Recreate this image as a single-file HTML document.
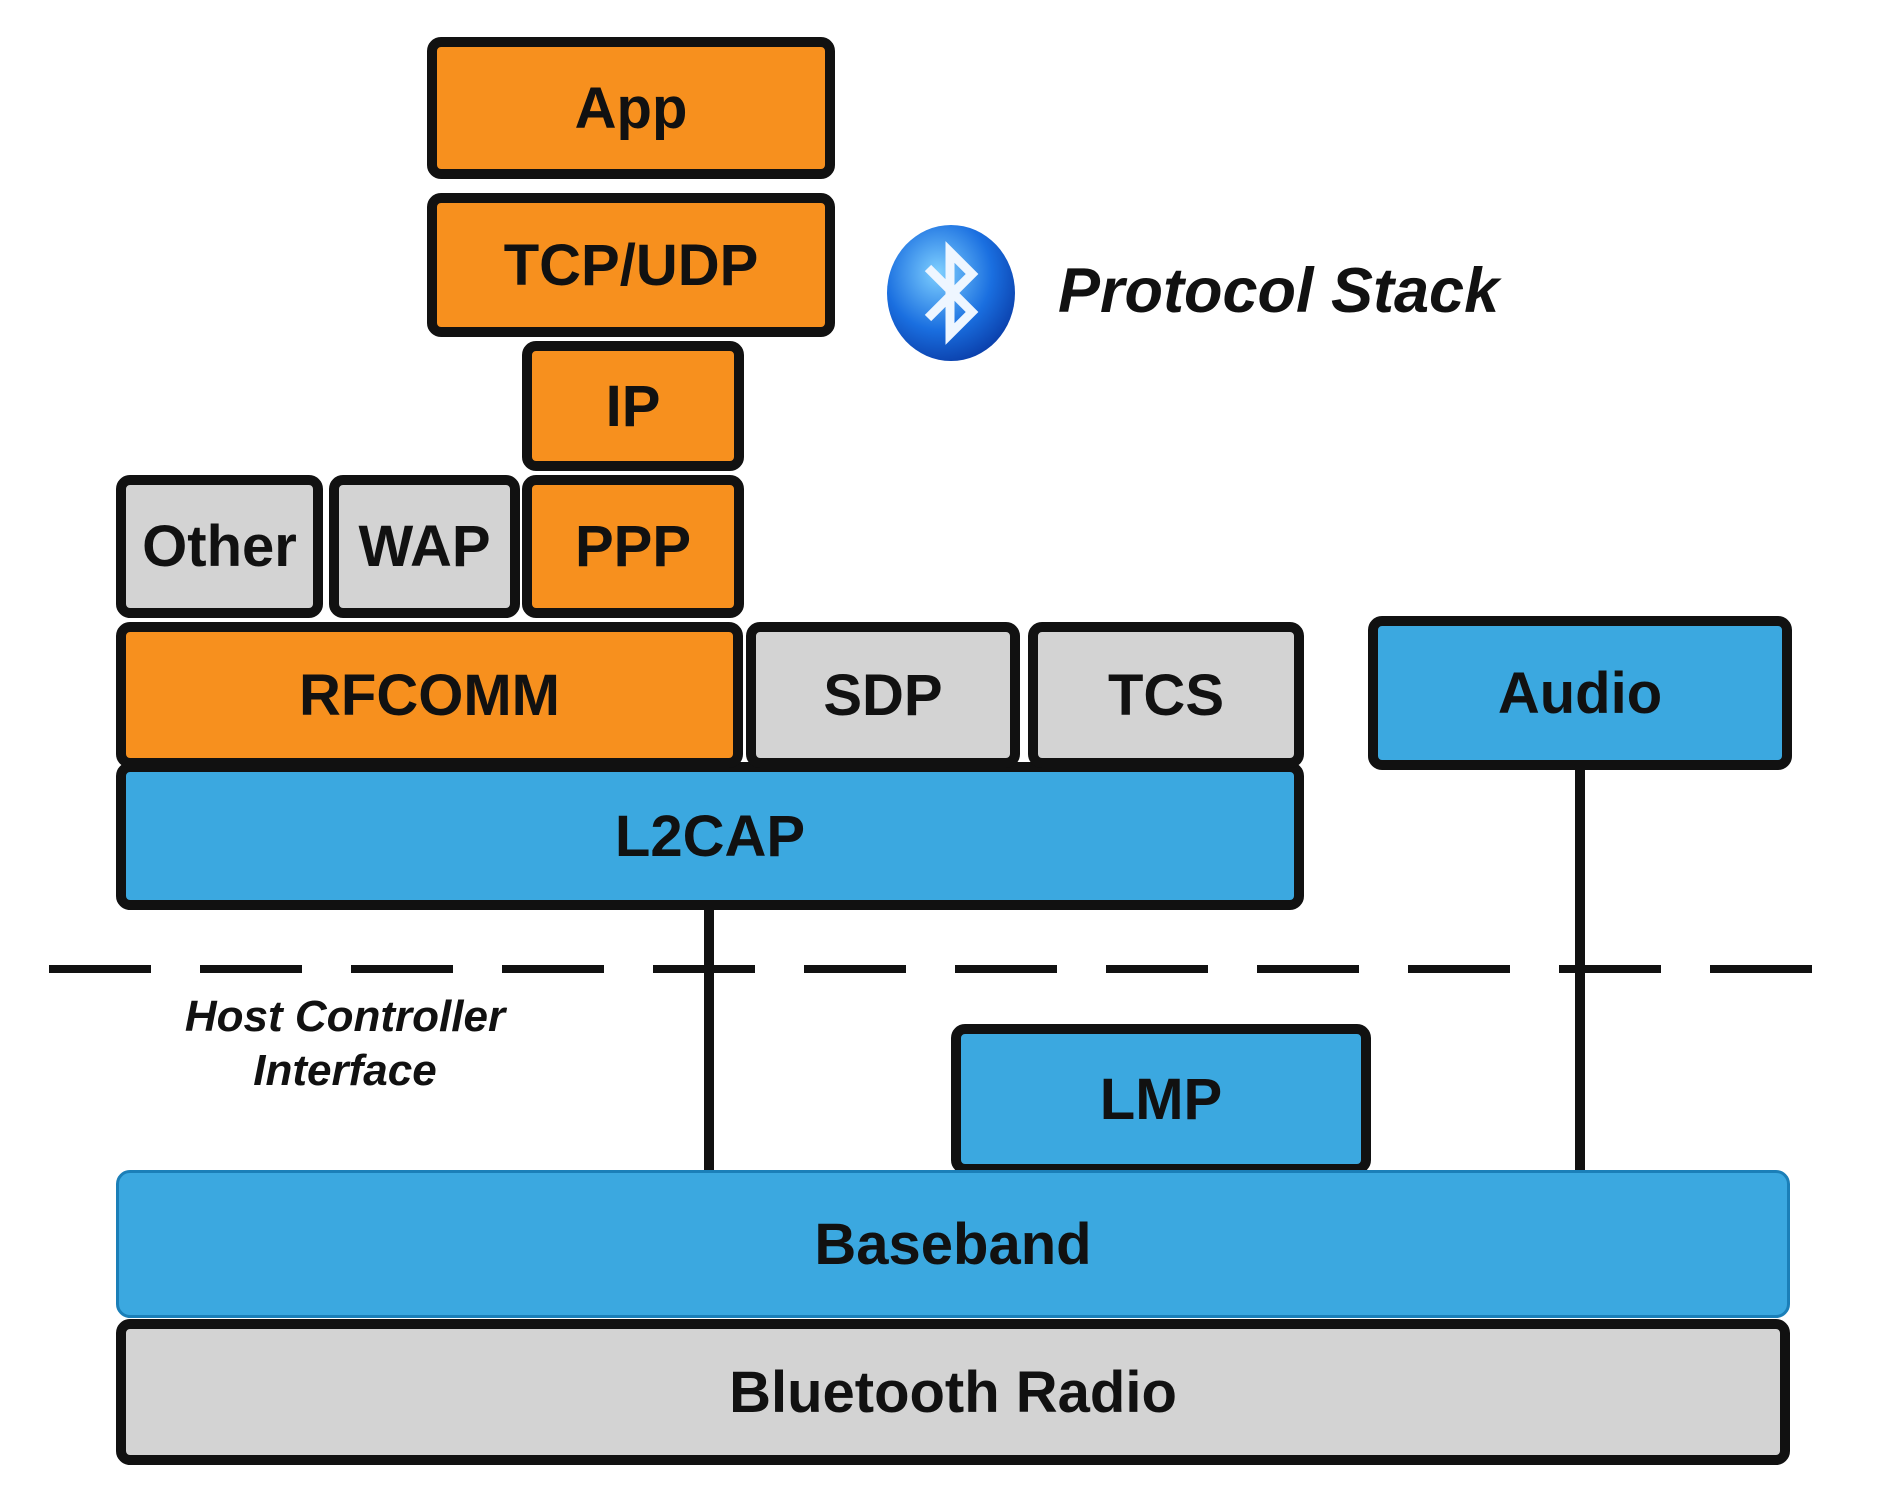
<!DOCTYPE html>
<html><head><style>
body{margin:0;width:1902px;height:1499px;background:#fff;position:relative;overflow:hidden;font-family:"Liberation Sans",sans-serif}
.b{position:absolute;box-sizing:border-box;border:10px solid #111;border-radius:14px;display:flex;align-items:center;justify-content:center;font-weight:bold;font-size:58px;color:#111}
.o{background:#f7901e}.g{background:#d3d3d3}.u{background:#3ba8e0}
</style></head><body>
<div class="b o" style="left:427px;top:37px;width:408px;height:142px">App</div>
<div class="b o" style="left:427px;top:193px;width:408px;height:144px">TCP/UDP</div>
<div class="b o" style="left:522px;top:341px;width:222px;height:130px">IP</div>
<div class="b g" style="left:116px;top:475px;width:207px;height:143px">Other</div>
<div class="b g" style="left:329px;top:475px;width:191px;height:143px">WAP</div>
<div class="b o" style="left:522px;top:475px;width:222px;height:143px">PPP</div>
<div class="b u" style="left:116px;top:762px;width:1188px;height:148px">L2CAP</div>
<div class="b o" style="left:116px;top:622px;width:627px;height:146px">RFCOMM</div>
<div class="b g" style="left:746px;top:622px;width:274px;height:146px">SDP</div>
<div class="b g" style="left:1028px;top:622px;width:276px;height:146px">TCS</div>
<div class="b u" style="left:1368px;top:616px;width:424px;height:154px">Audio</div>
<svg style="position:absolute;left:0;top:0" width="1902" height="1499">
<line x1="49" y1="969" x2="1860" y2="969" stroke="#111" stroke-width="8" stroke-dasharray="102,49"/>
<line x1="709" y1="905" x2="709" y2="1175" stroke="#111" stroke-width="10"/>
<line x1="1580" y1="765" x2="1580" y2="1175" stroke="#111" stroke-width="10"/>
<defs><radialGradient id="bt" cx="0.4" cy="0.35" r="0.7"><stop offset="0" stop-color="#7fd0ff"/><stop offset="0.6" stop-color="#1a6fe0"/><stop offset="1" stop-color="#0a3da8"/></radialGradient></defs>
<ellipse cx="951" cy="293" rx="64" ry="68" fill="url(#bt)"/>
<path d="M928 268 L972 312 L950 334 L950 252 L972 274 L928 318" fill="none" stroke="#eef6ff" stroke-width="9"/>
</svg>
<div class="b u" style="left:951px;top:1024px;width:420px;height:150px">LMP</div>
<div class="b u" style="left:116px;top:1170px;width:1674px;height:148px;border:3px solid #1b7fb8">Baseband</div>
<div class="b g" style="left:116px;top:1319px;width:1674px;height:146px">Bluetooth Radio</div>
<div style="position:absolute;left:1058px;top:255px;font-size:63px;font-weight:bold;font-style:italic;color:#111">Protocol Stack</div>
<div style="position:absolute;left:130px;top:990px;width:430px;text-align:center;font-size:44px;line-height:54px;font-weight:bold;font-style:italic;color:#111">Host Controller<br>Interface</div>
</body></html>
